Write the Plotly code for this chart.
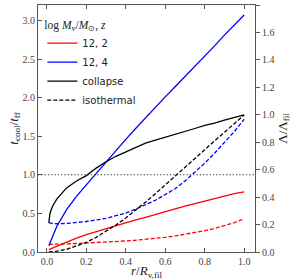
import plotly.graph_objects as go

r = [0.01, 0.05, 0.1, 0.15, 0.2, 0.25, 0.3, 0.35, 0.4, 0.45, 0.5,
     0.55, 0.6, 0.65, 0.7, 0.75, 0.8, 0.85, 0.9, 0.95, 1.0]

red_collapse = [0.03, 0.075, 0.13, 0.18, 0.225, 0.265, 0.305, 0.345, 0.38, 0.415, 0.45,
                0.49, 0.525, 0.56, 0.595, 0.63, 0.66, 0.695, 0.725, 0.755, 0.78]
red_iso = [0.1, 0.1, 0.105, 0.11, 0.115, 0.12, 0.128, 0.135, 0.143, 0.152, 0.163,
           0.175, 0.19, 0.208, 0.228, 0.25, 0.276, 0.305, 0.34, 0.38, 0.43]
blue_collapse = [0.08, 0.33, 0.55, 0.72, 0.87, 1.02, 1.17, 1.31, 1.46, 1.6, 1.74,
                 1.87, 2.01, 2.14, 2.27, 2.41, 2.54, 2.67, 2.81, 2.94, 3.07]
blue_iso = [0.377, 0.366, 0.37, 0.38, 0.395, 0.415, 0.435, 0.47, 0.505, 0.555, 0.61,
            0.67, 0.745, 0.82, 0.92, 1.03, 1.15, 1.28, 1.42, 1.56, 1.72]
black_collapse_r = [0.01, 0.0105, 0.012, 0.015, 0.02, 0.03, 0.05, 0.075, 0.1, 0.15, 0.2, 0.25,
                    0.3, 0.35, 0.4, 0.45, 0.5, 0.55, 0.6, 0.65, 0.7, 0.75, 0.8, 0.85, 0.9, 0.95, 1.0]
black_collapse = [0.377, 0.41, 0.45, 0.49, 0.535, 0.6, 0.685, 0.765, 0.83, 0.92, 0.99, 1.087,
                  1.17, 1.24, 1.30, 1.36, 1.41, 1.45, 1.49, 1.53, 1.57, 1.60, 1.64, 1.67, 1.71, 1.74, 1.775]
black_iso = [0.0, 0.01, 0.035, 0.075, 0.125, 0.19, 0.265, 0.35, 0.44, 0.54, 0.645,
             0.755, 0.87, 0.99, 1.1, 1.22, 1.33, 1.44, 1.55, 1.66, 1.775]

legend_names = ["12, 2", "12, 4", "collapse", "isothermal"]

SERIF = "Liberation Serif"
SANS = "DejaVu Sans"
LW = 1.3
DASH = "4px,2px"

fig = go.Figure()

fig.add_hline(y=1.0, line=dict(color="#333333", width=1.1, dash="1.3px,2px"))

def add(x, y, color, dash):
    fig.add_trace(go.Scatter(x=x, y=y, mode="lines", showlegend=False, hoverinfo="skip",
                             line=dict(color=color, width=LW, dash=dash)))

add(r, red_collapse, "#ff0000", "solid")
add(r, red_iso, "#ff0000", DASH)
add(r, blue_collapse, "#0000ff", "solid")
add(r, blue_iso, "#0000ff", DASH)
add(black_collapse_r, black_collapse, "#000000", "solid")
add(r, black_iso, "#000000", DASH)

# legend entries
for name, color, dash in zip(legend_names, ["#ff0000", "#0000ff", "#000000", "#000000"],
                             ["solid", "solid", "solid", DASH]):
    fig.add_trace(go.Scatter(x=[None], y=[None], mode="lines", name=name,
                             line=dict(color=color, width=LW, dash=dash)))

# invisible trace on right axis
fig.add_trace(go.Scatter(x=[None], y=[None], yaxis="y2", showlegend=False, hoverinfo="skip"))

axcol = "#555555"
fig.update_layout(
    width=293, height=280,
    margin=dict(l=38, r=38, t=5, b=28),
    plot_bgcolor="white", paper_bgcolor="white",
    font=dict(family=SERIF, size=10, color="#444444"),
    showlegend=True,
    legend=dict(x=0.02, y=0.965, xanchor="left", yanchor="top",
                bgcolor="rgba(0,0,0,0)", borderwidth=0,
                font=dict(family=SANS, size=10, color="#222222"),
                title=dict(text="log <i>M</i><sub>v</sub>/<i>M</i><sub>⊙</sub>, <i>z</i>",
                           font=dict(family=SERIF, size=11.5, color="#222222")),
                tracegroupgap=2, itemwidth=30),
    xaxis=dict(range=[-0.045, 1.055], tickvals=[0, 0.2, 0.4, 0.6, 0.8, 1.0],
               tickformat=".1f", ticks="inside", ticklen=4, tickcolor=axcol,
               showline=True, linecolor=axcol, linewidth=1, mirror="ticks",
               showgrid=False, zeroline=False, automargin=False,
               title=dict(text="<i>r</i>/<i>R</i><sub>v,fil</sub>", standoff=0,
                          font=dict(family=SERIF, size=13, color="#222222"))),
    yaxis=dict(range=[0, 3.2], tickvals=[0, 0.5, 1.0, 1.5, 2.0, 2.5, 3.0],
               tickformat=".1f", ticks="inside", ticklen=4, tickcolor=axcol,
               showline=True, linecolor=axcol, linewidth=1,
               showgrid=False, zeroline=False, automargin=False,
               title=dict(text="<i>t</i><sub>cool</sub>/<i>t</i><sub>ff</sub>", standoff=0,
                          font=dict(family=SERIF, size=13, color="#222222"))),
    yaxis2=dict(range=[0, 1.8], overlaying="y", side="right",
                tickvals=[0, 0.2, 0.4, 0.6, 0.8, 1.0, 1.2, 1.4, 1.6, 1.8],
                tickformat=".1f", ticks="outside", ticklen=4, tickcolor=axcol,
                showline=True, linecolor=axcol, linewidth=1,
                showgrid=False, zeroline=False, automargin=False,
                title=dict(text="Λ/Λ<sub>fil</sub>", standoff=0,
                           font=dict(family=SERIF, size=13, color="#222222"))),
)

fig.write_html("out.html", config={"displayModeBar": False},
               post_script="document.body.style.margin='0px';document.body.style.overflow='hidden';")
